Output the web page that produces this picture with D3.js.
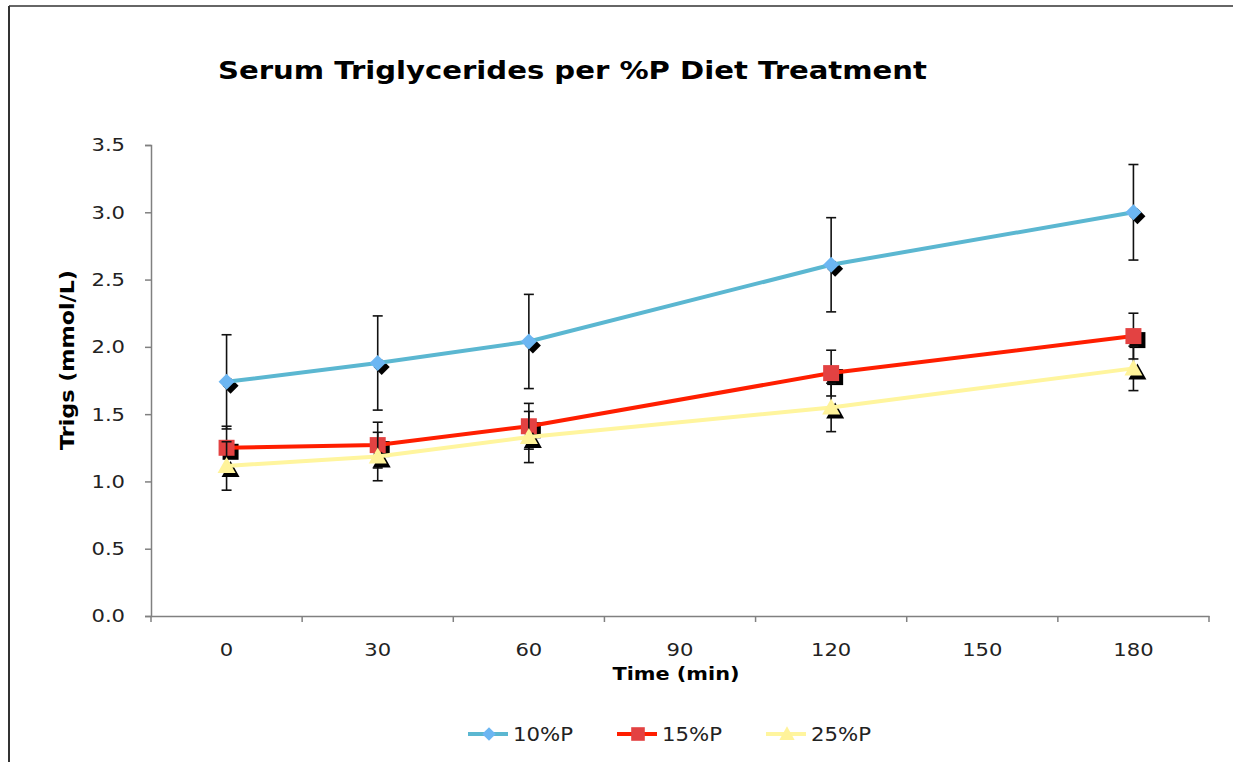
<!DOCTYPE html>
<html><head><meta charset="utf-8">
<script src="https://cdn.jsdelivr.net/npm/d3@7"></script>
<style>
html,body{margin:0;padding:0;background:#fff;}
svg{display:block;}
text{font-family:"DejaVu Sans",Verdana,sans-serif;}
</style></head><body>
<svg id="chart" width="1233" height="762"></svg>
<script>
const categories = ["0","30","60","90","120","150","180"];
const seriesNames = ["10%P","15%P","25%P"];
const times = ["0","30","60","120","180"];
const values10 = [1.74, 1.88, 2.04, 2.61, 3.00];
const errors10 = [0.35, 0.35, 0.35, 0.35, 0.355];
const values15 = [1.25, 1.27, 1.41, 1.805, 2.08];
const errors15 = [0.16, 0.17, 0.17, 0.17, 0.17];
const values25 = [1.115, 1.185, 1.33, 1.55, 1.84];
const errors25 = [0.18, 0.18, 0.19, 0.18, 0.165];
const yTicks = [0, 0.5, 1.0, 1.5, 2.0, 2.5, 3.0, 3.5];

(function(){
const svg = d3.select("#chart");
const W = 1233, H = 762;
const pLeft = 151, pRight = 1209, pTop = 145, pBottom = 616;

// frame
svg.append("line").attr("x1",9).attr("x2",W).attr("y1",6).attr("y2",6).attr("stroke","#666").attr("stroke-width",2);
svg.append("line").attr("x1",9).attr("x2",9).attr("y1",6).attr("y2",H).attr("stroke","#333").attr("stroke-width",2);

const x = d3.scaleBand().domain(categories).range([pLeft, pRight]).padding(0);
const y = d3.scaleLinear().domain([0, 3.5]).range([pBottom, pTop]);
const cx = t => x(t) + x.bandwidth()/2;

function stretch(sel, k){
  sel.each(function(){
    const len = this.getComputedTextLength();
    d3.select(this).attr("textLength", len*k).attr("lengthAdjust","spacingAndGlyphs");
  });
}

// title
svg.append("text").attr("x",218).attr("y",79).attr("font-size",24).attr("font-weight","bold")
  .attr("fill","#000").attr("textLength",709).attr("lengthAdjust","spacingAndGlyphs")
  .text("Serum Triglycerides per %P Diet Treatment");

// y axis
const yAxis = svg.append("g").attr("transform",`translate(${pLeft},0)`)
  .call(d3.axisLeft(y).tickValues(yTicks).tickFormat(d3.format(".1f")).tickSize(6).tickPadding(20));
yAxis.select(".domain").attr("stroke","#808080").attr("stroke-width",1.5);
yAxis.selectAll(".tick line").attr("stroke","#808080").attr("stroke-width",1.5);
yAxis.selectAll(".tick text").attr("font-size",18.5).attr("fill","#222").attr("font-family","DejaVu Sans")
  .call(stretch, 1.14);

// x axis
const xAxis = svg.append("g").attr("transform",`translate(0,${pBottom})`)
  .call(d3.axisBottom(x).tickSize(0).tickPadding(27));
xAxis.select(".domain").attr("stroke","#808080").attr("stroke-width",1.5);
xAxis.selectAll(".tick text").attr("font-size",18.5).attr("fill","#222").attr("font-family","DejaVu Sans")
  .call(stretch, 1.14);
// boundary ticks
const bounds = categories.map(c => x(c)).concat([pRight]);
svg.append("g").selectAll("line").data(bounds).join("line")
  .attr("x1",d=>d).attr("x2",d=>d).attr("y1",pBottom).attr("y2",pBottom+6)
  .attr("stroke","#808080").attr("stroke-width",1.5);

// axis titles
svg.append("text").attr("x",676).attr("y",680).attr("text-anchor","middle").attr("font-size",18)
  .attr("font-weight","bold").attr("textLength",127).attr("lengthAdjust","spacingAndGlyphs").text("Time (min)");
svg.append("text").attr("transform","translate(74,360) rotate(-90)").attr("text-anchor","middle")
  .attr("font-size",19).attr("font-weight","bold").attr("textLength",180).attr("lengthAdjust","spacingAndGlyphs")
  .text("Trigs (mmol/L)");

const series = [
  {name:seriesNames[0], vals:values10, errs:errors10, line:"#5BB7D1", fill:"#6CB6F2", shape:"diamond"},
  {name:seriesNames[1], vals:values15, errs:errors15, line:"#FF1E00", fill:"#E34242", shape:"square"},
  {name:seriesNames[2], vals:values25, errs:errors25, line:"#FFF59E", fill:"#FFF39A", shape:"triangle"}
];

function markerPath(shape){
  if(shape==="diamond") return "M0,-8L8,0L0,8L-8,0Z";
  if(shape==="square") return "M-8,-8H8V8H-8Z";
  return "M0,-9L9,7L-9,7Z";
}

const lineGen = d3.line().x(d=>cx(d.t)).y(d=>y(d.v));

series.forEach(s => {
  const pts = times.map((t,i)=>({t, v:s.vals[i], e:s.errs[i]}));
  const g = svg.append("g");
  const eb = g.append("g").selectAll("g").data(pts).join("g");
  eb.append("line").attr("x1",d=>cx(d.t)).attr("x2",d=>cx(d.t))
    .attr("y1",d=>y(d.v+d.e)).attr("y2",d=>y(d.v-d.e)).attr("stroke","#111").attr("stroke-width",1.6);
  eb.append("line").attr("x1",d=>cx(d.t)-5).attr("x2",d=>cx(d.t)+5)
    .attr("y1",d=>y(d.v+d.e)).attr("y2",d=>y(d.v+d.e)).attr("stroke","#111").attr("stroke-width",1.6);
  eb.append("line").attr("x1",d=>cx(d.t)-5).attr("x2",d=>cx(d.t)+5)
    .attr("y1",d=>y(d.v-d.e)).attr("y2",d=>y(d.v-d.e)).attr("stroke","#111").attr("stroke-width",1.6);
  g.append("g").selectAll("path").data(pts).join("path")
    .attr("d",markerPath(s.shape)).attr("fill","#000")
    .attr("transform",d=>`translate(${cx(d.t)+4},${y(d.v)+4})`);
  g.append("path").datum(pts).attr("d",lineGen).attr("fill","none")
    .attr("stroke",s.line).attr("stroke-width",4);
  g.append("g").selectAll("path").data(pts).join("path")
    .attr("d",markerPath(s.shape)).attr("fill",s.fill)
    .attr("transform",d=>`translate(${cx(d.t)},${y(d.v)})`);
});

// legend
const legX = [468, 617, 766];
const leg = svg.append("g");
series.forEach((s,i)=>{
  const lx = legX[i], ly = 734;
  leg.append("line").attr("x1",lx).attr("x2",lx+40).attr("y1",ly).attr("y2",ly).attr("stroke",s.line).attr("stroke-width",4);
  leg.append("path").attr("d",markerPath(s.shape)).attr("fill",s.fill).attr("transform",`translate(${lx+21},${ly}) scale(0.85)`);
  leg.append("text").attr("x",lx+45).attr("y",ly+7).attr("font-size",19).attr("fill","#222")
    .attr("textLength",60).attr("lengthAdjust","spacingAndGlyphs").text(s.name);
});
})();
</script>
</body></html>
